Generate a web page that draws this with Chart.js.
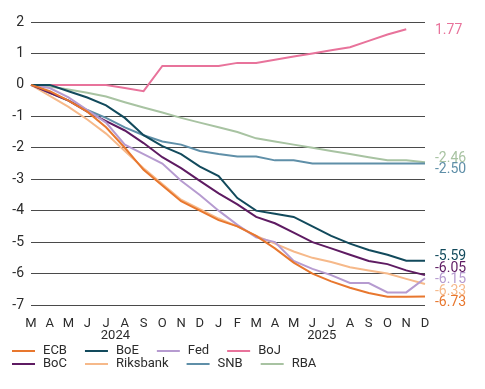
<!DOCTYPE html>
<html>
<head>
<meta charset="utf-8">
<script src="https://cdn.jsdelivr.net/npm/chart.js@4.4.1/dist/chart.umd.min.js"></script>
<style>
  html, body { margin: 0; padding: 0; background: #fff; }
</style>
</head>
<body>
<canvas id="chart" width="485" height="389"></canvas>
<script>
// monthly periods, Mar 2024 .. Dec 2025
const periods = ['2024-03','2024-04','2024-05','2024-06','2024-07','2024-08','2024-09','2024-10','2024-11','2024-12',
                 '2025-01','2025-02','2025-03','2025-04','2025-05','2025-06','2025-07','2025-08','2025-09','2025-10','2025-11','2025-12'];
const monthLetters = ['J','F','M','A','M','J','J','A','S','O','N','D'];
const yTicks = [2, 1, 0, -1, -2, -3, -4, -5, -6, -7];

// cumulative change, percentage points
const ecb      = [0,-0.2,-0.5,-0.85,-1.35,-2.0,-2.7,-3.2,-3.7,-4.0,-4.3,-4.5,-4.8,-5.2,-5.65,-6.0,-6.25,-6.45,-6.62,-6.74,-6.74,-6.73];
const boe      = [0,0,-0.2,-0.4,-0.65,-1.05,-1.6,-1.95,-2.2,-2.6,-2.9,-3.6,-4.0,-4.1,-4.2,-4.5,-4.8,-5.05,-5.25,-5.4,-5.59,-5.59];
const fed      = [0,-0.1,-0.4,-0.8,-1.2,-1.9,-2.2,-2.5,-3.05,-3.5,-4.0,-4.45,-4.85,-5.0,-5.6,-5.85,-6.05,-6.3,-6.3,-6.6,-6.6,-6.15];
const boj      = [0,0,0,0,0,-0.1,-0.2,0.6,0.6,0.6,0.6,0.7,0.7,0.8,0.9,1.0,1.1,1.2,1.4,1.6,1.77,null];
const boc      = [0,-0.25,-0.5,-0.85,-1.15,-1.45,-1.85,-2.3,-2.65,-3.05,-3.45,-3.8,-4.2,-4.4,-4.7,-5.0,-5.2,-5.4,-5.6,-5.7,-5.9,-6.05];
const riksbank = [0,-0.35,-0.7,-1.1,-1.55,-2.1,-2.65,-3.15,-3.65,-3.95,-4.25,-4.5,-4.8,-5.05,-5.3,-5.5,-5.63,-5.8,-5.9,-6.0,-6.17,-6.33];
const snb      = [0,-0.25,-0.5,-0.8,-1.05,-1.35,-1.6,-1.8,-1.9,-2.1,-2.2,-2.28,-2.28,-2.4,-2.4,-2.5,-2.5,-2.5,-2.5,-2.5,-2.5,-2.5];
const rba      = [0,-0.05,-0.15,-0.25,-0.37,-0.55,-0.72,-0.88,-1.05,-1.2,-1.35,-1.5,-1.7,-1.8,-1.9,-2.0,-2.1,-2.2,-2.3,-2.4,-2.4,-2.46];

const FONT = 'Roboto, "DejaVu Sans", sans-serif';
const TEXT = '#2b2b2b';

const series = [
  {label: 'ECB',      data: ecb,      color: '#e8772e'},
  {label: 'BoE',      data: boe,      color: '#124a5c'},
  {label: 'Fed',      data: fed,      color: '#b69bd0'},
  {label: 'BoJ',      data: boj,      color: '#e8739b'},
  {label: 'BoC',      data: boc,      color: '#5e1b62'},
  {label: 'Riksbank', data: riksbank, color: '#f6b98a'},
  {label: 'SNB',      data: snb,      color: '#5f8fa8'},
  {label: 'RBA',      data: rba,      color: '#a8c3a2'},
];

// year captions under the month letters
const yearLabels = {
  id: 'yearLabels',
  afterDraw(chart) {
    const {ctx, scales: {x}} = chart;
    const years = [...new Set(periods.map(p => p.slice(0, 4)))];
    ctx.save();
    ctx.font = '13px ' + FONT;
    ctx.fillStyle = TEXT;
    ctx.textAlign = 'center';
    ctx.textBaseline = 'middle';
    years.forEach(yr => {
      const first = periods.findIndex(p => p.startsWith(yr));
      const last = periods.length - 1 - [...periods].reverse().findIndex(p => p.startsWith(yr));
      const cx = (x.getPixelForValue(first) + x.getPixelForValue(last)) / 2;
      ctx.fillText(yr, cx, x.bottom - 53);
    });
    ctx.restore();
  }
};

// last value printed at the right, nudged apart when they collide
const endLabels = {
  id: 'endLabels',
  afterDatasetsDraw(chart) {
    const {ctx, chartArea, scales: {y}} = chart;
    const gap = 11.5;
    const items = chart.data.datasets.map(ds => {
      let i = ds.data.length - 1;
      while (ds.data[i] == null) i--;
      const v = ds.data[i];
      return {text: v.toFixed(2), target: y.getPixelForValue(v), color: ds.borderColor};
    }).sort((a, b) => a.target - b.target);

    let groups = items.map(it => ({items: [it]}));
    const place = g => {
      const mean = g.items.reduce((s, it) => s + it.target, 0) / g.items.length;
      g.top = mean - (g.items.length - 1) * gap / 2;
    };
    groups.forEach(place);
    let merged = true;
    while (merged) {
      merged = false;
      for (let i = 0; i < groups.length - 1; i++) {
        const a = groups[i], b = groups[i + 1];
        if (a.top + a.items.length * gap > b.top) {
          a.items = a.items.concat(b.items);
          groups.splice(i + 1, 1);
          place(a);
          merged = true;
          break;
        }
      }
    }

    ctx.save();
    ctx.font = '14px ' + FONT;
    ctx.textAlign = 'left';
    ctx.textBaseline = 'middle';
    groups.forEach(g => g.items.forEach((it, k) => {
      ctx.fillStyle = it.color;
      ctx.fillText(it.text, chartArea.right + 10, g.top + 1 + k * gap);
    }));
    ctx.restore();
  }
};

// two-row legend under the axis
const bottomLegend = {
  id: 'bottomLegend',
  afterDraw(chart) {
    const {ctx} = chart;
    const perRow = 4;
    let lx = 12;
    ctx.save();
    ctx.font = '13px ' + FONT;
    ctx.textBaseline = 'middle';
    ctx.lineWidth = 2;
    chart.data.datasets.forEach((ds, i) => {
      const row = Math.floor(i / perRow);
      if (i % perRow === 0) lx = 12;
      const yy = 351 + row * 13;
      ctx.strokeStyle = ds.borderColor;
      ctx.beginPath();
      ctx.moveTo(lx, yy);
      ctx.lineTo(lx + 23, yy);
      ctx.stroke();
      ctx.fillStyle = TEXT;
      ctx.fillText(ds.label, lx + 31, yy);
      lx = lx + 31 + ctx.measureText(ds.label).width + 18;
    });
    ctx.restore();
  }
};

new Chart(document.getElementById('chart'), {
  type: 'line',
  data: {
    labels: periods.map(p => monthLetters[+p.slice(5) - 1]),
    datasets: series.map(s => ({
      label: s.label,
      data: s.data,
      borderColor: s.color,
      backgroundColor: s.color,
      borderWidth: 2,
      pointRadius: 0,
      tension: 0,
      spanGaps: false,
    }))
  },
  options: {
    responsive: false,
    animation: false,
    layout: {padding: {top: 22, right: 60, left: 0, bottom: 0}},
    plugins: {
      legend: {display: false},
      tooltip: {enabled: false}
    },
    scales: {
      x: {
        type: 'category',
        grid: {display: false, drawTicks: false},
        border: {display: false},
        ticks: {
          autoSkip: false, maxRotation: 0, padding: 11,
          color: TEXT, font: {family: FONT, size: 13}
        },
        afterFit(scale) { scale.height = 84; }
      },
      y: {
        min: -7, max: 2,
        afterBuildTicks(scale) { scale.ticks = yTicks.map(v => ({value: v})); },
        grid: {color: '#4a4a4a', lineWidth: 1, drawTicks: false},
        border: {display: false},
        ticks: {padding: 7, color: TEXT, font: {family: FONT, size: 14}},
        afterFit(scale) { scale.width = 31; }
      }
    }
  },
  plugins: [yearLabels, endLabels, bottomLegend]
});
</script>
</body>
</html>
